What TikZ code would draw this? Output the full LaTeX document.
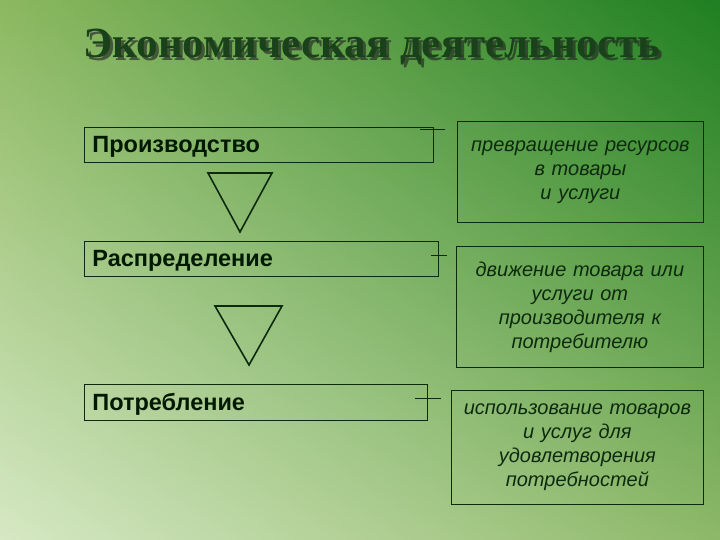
\documentclass[tikz,border=0pt]{standalone}
\usepackage{fontspec}
\usetikzlibrary{shadings}
\setmainfont{Liberation Serif}
\newfontfamily\sansf{Liberation Sans}
\definecolor{bgUL}{HTML}{8CB860}
\definecolor{bgUR}{HTML}{1F7F22}
\definecolor{bgLL}{HTML}{D6E8C4}
\definecolor{bgLR}{HTML}{8DB868}
\definecolor{ink}{HTML}{0E2A0E}
\definecolor{titlecol}{HTML}{1A421A}
\tikzset{
  leftbox/.style={draw=ink, line width=0.8pt, anchor=north west, inner sep=0pt,
    font=\sansf\bfseries\fontsize{23.5}{26}\selectfont, text=black!90!green,
    align=left, text height=20pt, text depth=4pt},
  rightbox/.style={draw=ink, line width=0.8pt, anchor=north west, inner sep=0pt,
    font=\sansf\itshape\fontsize{20}{24}\selectfont, text=ink, align=center},
  tri/.style={draw=ink, line width=1.6pt, line join=miter},
  tick/.style={draw=ink, line width=0.8pt}
}
\begin{document}
\begin{tikzpicture}[x=1pt,y=-1pt]
\useasboundingbox (0,0) rectangle (720,540);
\shade[upper left=bgUL, upper right=bgUR, lower left=bgLL, lower right=bgLR] (0,0) rectangle (720,540);
% title with shadow
\node[font=\bfseries\fontsize{43}{50}\selectfont, text=black!85, anchor=base, opacity=0.65] (tshadow) at (375,61) {Экономическая деятельность};
\node[font=\bfseries\fontsize{43}{50}\selectfont, text=titlecol, anchor=base] (title) at (372,58) {Экономическая деятельность};
% left boxes
\node[leftbox, minimum width=349pt, minimum height=35pt, text width=333pt] (p1) at (84,127) {Производство};
\node[leftbox, minimum width=354pt, minimum height=35pt, text width=338pt] (p2) at (84,241) {Распределение};
\node[leftbox, minimum width=343pt, minimum height=36pt, text width=327pt] (p3) at (84,384) {Потребление};
% right boxes
\node[rightbox, minimum width=246pt, minimum height=101pt, text width=240pt] (d1) at (457,121) {превращение ресурсов\\в товары\\и услуги};
\node[rightbox, minimum width=247pt, minimum height=121pt, text width=240pt] (d2) at (456,246) {движение товара или\\услуги от\\производителя к\\потребителю};
\node[rightbox, minimum width=252pt, minimum height=114pt, text width=248pt] (d3) at (451,390) {использование товаров\\и услуг для\\удовлетворения\\потребностей};
% triangles between left boxes
\coordinate (t1a) at (208,173); \coordinate (t1b) at (272,173); \coordinate (t1c) at (240,232);
\draw[tri] (t1a) -- (t1b) -- (t1c) -- cycle;
\coordinate (t2a) at (215,306); \coordinate (t2b) at (282,306); \coordinate (t2c) at (249,365);
\draw[tri] (t2a) -- (t2b) -- (t2c) -- cycle;
% ticks
\coordinate (k1a) at (420,129); \coordinate (k1b) at (445,129);
\draw[tick] (k1a) -- (k1b);
\coordinate (k2a) at (431,255); \coordinate (k2b) at (447,255);
\draw[tick] (k2a) -- (k2b);
\coordinate (k3a) at (415,398); \coordinate (k3b) at (441,398);
\draw[tick] (k3a) -- (k3b);
\end{tikzpicture}
\end{document}
